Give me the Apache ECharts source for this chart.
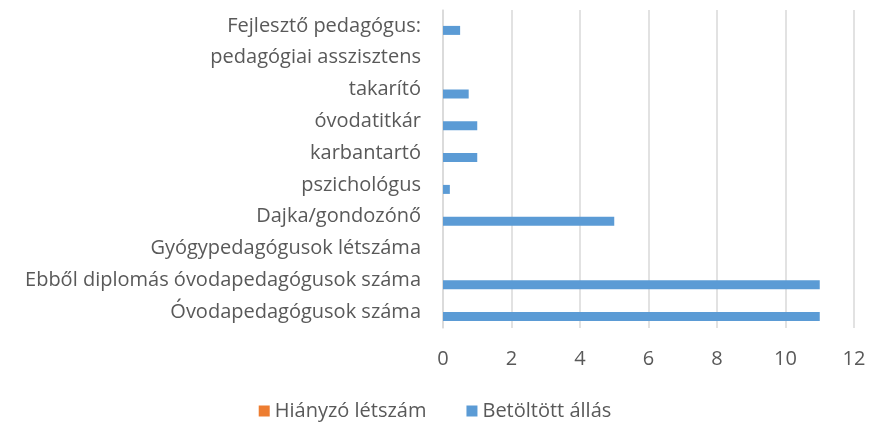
<!DOCTYPE html>
<html>
<head>
<meta charset="utf-8">
<script src="https://cdn.jsdelivr.net/npm/echarts@6/dist/echarts.min.js"></script>
<style>
html, body { margin: 0; padding: 0; background: #fff; }
#chart { width: 870px; height: 423px; }
</style>
</head>
<body>
<div id="chart"></div>
<script>
// kategóriák alulról felfelé
const categories = [
  'Óvodapedagógusok száma',
  'Ebből diplomás óvodapedagógusok száma',
  'Gyógypedagógusok létszáma',
  'Dajka/gondozónő',
  'pszichológus',
  'karbantartó',
  'óvodatitkár',
  'takarító',
  'pedagógiai asszisztens',
  'Fejlesztő pedagógus:'
];
const hianyzo = [0, 0, 0, 0, 0, 0, 0, 0, 0, 0];
const betoltott = [11, 11, 0, 5, 0.2, 1, 1, 0.75, 0, 0.5];
const xTicks = [0, 2, 4, 6, 8, 10, 12];

const chart = echarts.init(document.getElementById('chart'));
const font = '"Open Sans", sans-serif';
const option = {
  animation: false,
  textStyle: { fontFamily: font },
  grid: { left: 443, right: 16, top: 10, bottom: 95, containLabel: false },
  legend: {
    data: ['Hiányzó létszám', 'Betöltött állás'],
    bottom: -3,
    left: 'center',
    icon: 'rect',
    itemWidth: 11,
    itemHeight: 11,
    itemGap: 40,
    textStyle: { color: '#595959', fontSize: 20, fontFamily: font }
  },
  xAxis: {
    type: 'value',
    min: xTicks[0],
    max: xTicks[xTicks.length - 1],
    interval: 2,
    axisLine: { show: false },
    axisTick: { show: false },
    splitLine: { lineStyle: { color: '#d9d9d9', width: 1.5 } },
    axisLabel: { color: '#595959', fontSize: 20, margin: 21, fontFamily: font }
  },
  yAxis: {
    type: 'category',
    data: categories,
    axisLine: { lineStyle: { color: '#d9d9d9', width: 1.5 } },
    axisTick: { show: false },
    axisLabel: { color: '#595959', fontSize: 20, margin: 22, fontFamily: font }
  },
  series: [
    {
      name: 'Hiányzó létszám',
      type: 'bar',
      data: hianyzo,
      barWidth: 9,
      barGap: '0%',
      itemStyle: { color: '#ed7d31' }
    },
    {
      name: 'Betöltött állás',
      type: 'bar',
      data: betoltott,
      barWidth: 9,
      barGap: '0%',
      itemStyle: { color: '#5b9bd5' }
    }
  ]
};
chart.setOption(option);
</script>
</body>
</html>
